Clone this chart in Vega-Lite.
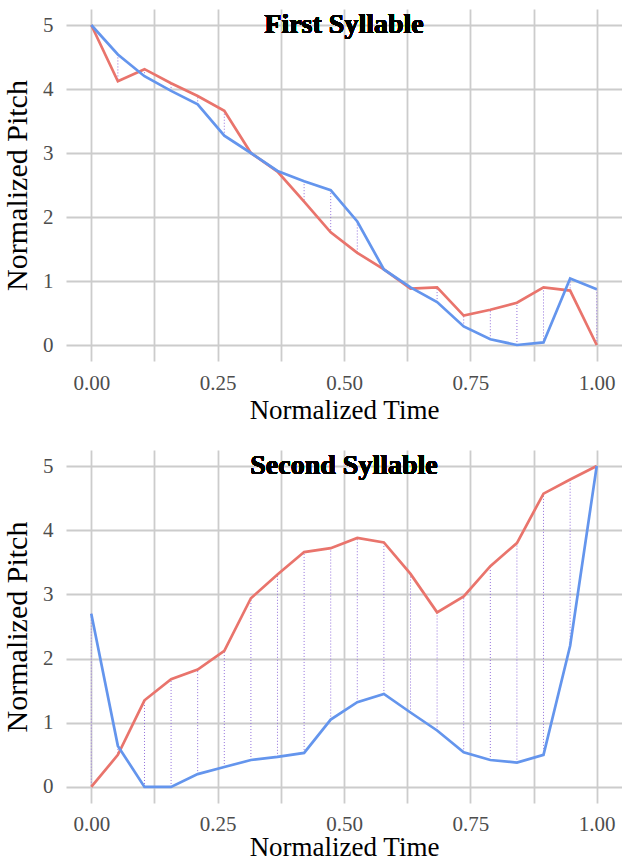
{
  "$schema": "https://vega.github.io/schema/vega-lite/v6.json",
  "padding": {"left": 2, "top": 9, "right": 0, "bottom": 0},
  "spacing": 27,
  "datasets": {
    "s1": [
      {"t": 0, "red": 5, "blue": 5},
      {"t": 0.0526, "red": 4.12, "blue": 4.54},
      {"t": 0.1053, "red": 4.31, "blue": 4.2},
      {"t": 0.1579, "red": 4.09, "blue": 3.97},
      {"t": 0.2105, "red": 3.89, "blue": 3.76},
      {"t": 0.2632, "red": 3.66, "blue": 3.27},
      {"t": 0.3158, "red": 3.0, "blue": 3.0},
      {"t": 0.3684, "red": 2.71, "blue": 2.72},
      {"t": 0.4211, "red": 2.24, "blue": 2.56},
      {"t": 0.4737, "red": 1.76, "blue": 2.42},
      {"t": 0.5263, "red": 1.44, "blue": 1.93},
      {"t": 0.5789, "red": 1.18, "blue": 1.18},
      {"t": 0.6316, "red": 0.88, "blue": 0.9},
      {"t": 0.6842, "red": 0.9, "blue": 0.67},
      {"t": 0.7368, "red": 0.46, "blue": 0.29},
      {"t": 0.7895, "red": 0.55, "blue": 0.09},
      {"t": 0.8421, "red": 0.66, "blue": 0.0},
      {"t": 0.8947, "red": 0.9, "blue": 0.04},
      {"t": 0.9474, "red": 0.85, "blue": 1.04},
      {"t": 1, "red": 0.0, "blue": 0.87}
    ],
    "s2": [
      {"t": 0, "red": 0, "blue": 2.7},
      {"t": 0.0526, "red": 0.5, "blue": 0.64},
      {"t": 0.1053, "red": 1.35, "blue": 0.0},
      {"t": 0.1579, "red": 1.68, "blue": 0.0},
      {"t": 0.2105, "red": 1.83, "blue": 0.2},
      {"t": 0.2632, "red": 2.12, "blue": 0.31},
      {"t": 0.3158, "red": 2.94, "blue": 0.42},
      {"t": 0.3684, "red": 3.31, "blue": 0.47},
      {"t": 0.4211, "red": 3.66, "blue": 0.53},
      {"t": 0.4737, "red": 3.72, "blue": 1.05},
      {"t": 0.5263, "red": 3.88, "blue": 1.32},
      {"t": 0.5789, "red": 3.81, "blue": 1.45},
      {"t": 0.6316, "red": 3.32, "blue": 1.16},
      {"t": 0.6842, "red": 2.72, "blue": 0.88},
      {"t": 0.7368, "red": 2.97, "blue": 0.54},
      {"t": 0.7895, "red": 3.44, "blue": 0.42},
      {"t": 0.8421, "red": 3.8, "blue": 0.38},
      {"t": 0.8947, "red": 4.57, "blue": 0.5},
      {"t": 0.9474, "red": 4.79, "blue": 2.2},
      {"t": 1, "red": 5.0, "blue": 5.0}
    ]
  },
  "vconcat": [
    {
      "width": 556,
      "height": 352,
      "data": {"name": "s1"},
      "encoding": {
        "x": {"field": "t", "type": "quantitative", "title": "Normalized Time",
          "scale": {"domain": [-0.05, 1.05], "nice": false, "zero": false},
          "axis": {"values": [0, 0.125, 0.25, 0.375, 0.5, 0.625, 0.75, 0.875, 1], "labelExpr": "datum.value % 0.25 == 0 ? format(datum.value, '.2f') : ''", "labelPadding": 11, "titlePadding": 4}}
      },
      "layer": [
        {
          "mark": {"type": "rule", "color": "#9370DB", "strokeDash": [1, 2], "strokeWidth": 1},
          "encoding": {
            "y": {"field": "blue", "type": "quantitative", "title": "Normalized Pitch",
              "scale": {"domain": [-0.25, 5.25], "nice": false, "zero": false},
              "axis": {"values": [0, 0.5, 1, 1.5, 2, 2.5, 3, 3.5, 4, 4.5, 5], "labelExpr": "datum.value % 1 == 0 ? format(datum.value, 'd') : ''", "labelPadding": 13, "titlePadding": 10, "titleFontSize": 30}},
            "y2": {"field": "red"}
          }
        },
        {
          "transform": [{"fold": ["red", "blue"], "as": ["series", "pitch"]}],
          "mark": {"type": "line", "strokeWidth": 2.7},
          "encoding": {
            "y": {"field": "pitch", "type": "quantitative", "title": "Normalized Pitch",
              "scale": {"domain": [-0.25, 5.25], "nice": false, "zero": false},
              "axis": {"values": [0, 0.5, 1, 1.5, 2, 2.5, 3, 3.5, 4, 4.5, 5], "labelExpr": "datum.value % 1 == 0 ? format(datum.value, 'd') : ''", "labelPadding": 13, "titlePadding": 10, "titleFontSize": 30}},
            "color": {"field": "series", "type": "nominal", "scale": {"domain": ["red", "blue"], "range": ["#E9746C", "#6495ED"]}, "legend": null}
          }
        },
        {
          "mark": {"type": "text", "font": "Liberation Serif", "fontWeight": "bold", "fontSize": 28, "baseline": "middle", "align": "center", "fill": "#000000", "strokeWidth": 0},
          "encoding": {
            "x": {"datum": 0.5},
            "y": {"datum": 5},
            "text": {"value": "First Syllable"}
          }
        }
      ]
    },
    {
      "width": 556,
      "height": 353,
      "data": {"name": "s2"},
      "encoding": {
        "x": {"field": "t", "type": "quantitative", "title": "Normalized Time",
          "scale": {"domain": [-0.05, 1.05], "nice": false, "zero": false},
          "axis": {"values": [0, 0.125, 0.25, 0.375, 0.5, 0.625, 0.75, 0.875, 1], "labelExpr": "datum.value % 0.25 == 0 ? format(datum.value, '.2f') : ''", "labelPadding": 10, "titlePadding": 0}}
      },
      "layer": [
        {
          "mark": {"type": "rule", "color": "#9370DB", "strokeDash": [1, 2], "strokeWidth": 1},
          "encoding": {
            "y": {"field": "blue", "type": "quantitative", "title": "Normalized Pitch",
              "scale": {"domain": [-0.25, 5.25], "nice": false, "zero": false},
              "axis": {"values": [0, 0.5, 1, 1.5, 2, 2.5, 3, 3.5, 4, 4.5, 5], "labelExpr": "datum.value % 1 == 0 ? format(datum.value, 'd') : ''", "labelPadding": 13, "titlePadding": 10, "titleFontSize": 30}},
            "y2": {"field": "red"}
          }
        },
        {
          "transform": [{"fold": ["red", "blue"], "as": ["series", "pitch"]}],
          "mark": {"type": "line", "strokeWidth": 2.7},
          "encoding": {
            "y": {"field": "pitch", "type": "quantitative", "title": "Normalized Pitch",
              "scale": {"domain": [-0.25, 5.25], "nice": false, "zero": false},
              "axis": {"values": [0, 0.5, 1, 1.5, 2, 2.5, 3, 3.5, 4, 4.5, 5], "labelExpr": "datum.value % 1 == 0 ? format(datum.value, 'd') : ''", "labelPadding": 13, "titlePadding": 10, "titleFontSize": 30}},
            "color": {"field": "series", "type": "nominal", "scale": {"domain": ["red", "blue"], "range": ["#E9746C", "#6495ED"]}, "legend": null}
          }
        },
        {
          "mark": {"type": "text", "font": "Liberation Serif", "fontWeight": "bold", "fontSize": 28, "baseline": "middle", "align": "center", "fill": "#000000", "strokeWidth": 0},
          "encoding": {
            "x": {"datum": 0.5},
            "y": {"datum": 5},
            "text": {"value": "Second Syllable"}
          }
        }
      ]
    }
  ],
  "config": {
    "view": {"stroke": null},
    "axis": {
      "domain": false,
      "ticks": false,
      "gridColor": "#cccccc",
      "gridWidth": 1.8,
      "labelFont": "Liberation Serif",
      "labelFontSize": 21,
      "labelColor": "#4d4d4d",
      "titleFont": "Liberation Serif",
      "titleFontSize": 27,
      "titleFontWeight": "normal",
      "titleColor": "#000000"
    }
  }
}
